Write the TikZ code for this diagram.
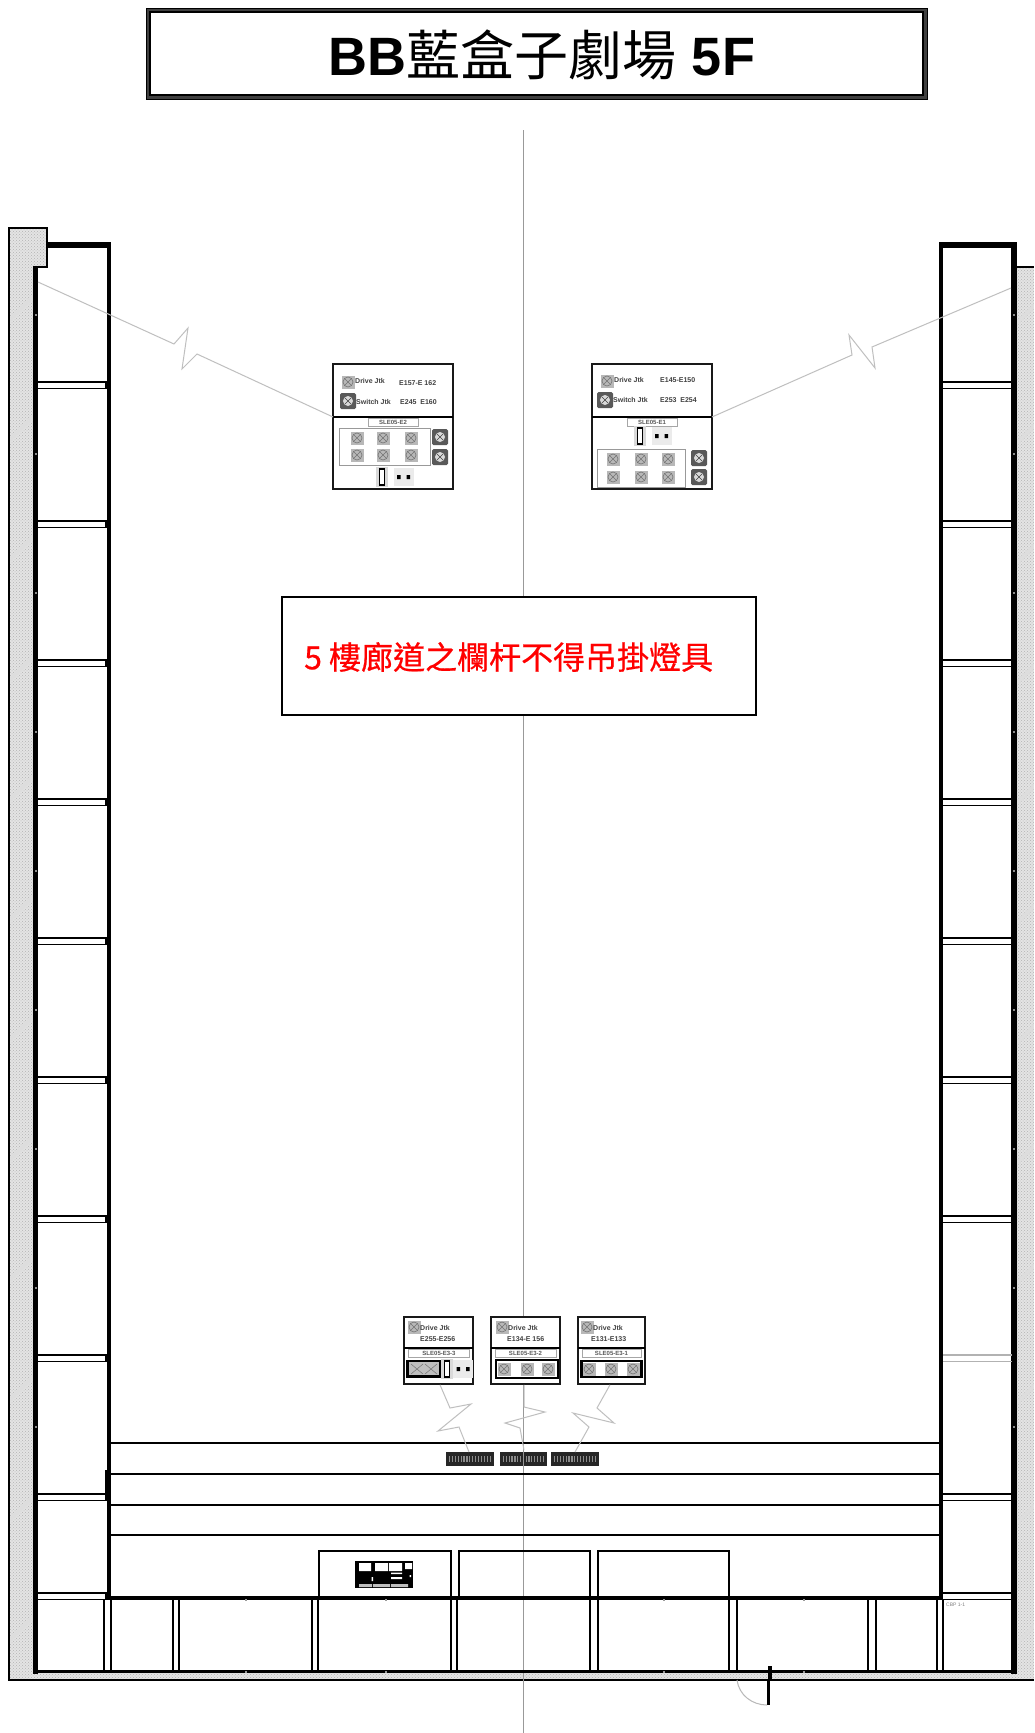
\documentclass[tikz,border=0pt]{standalone}
\usepackage{fontspec}
\usetikzlibrary{patterns}
\setmainfont{Liberation Sans}
\newfontfamily\cjkfont{Noto Sans CJK TC}
\newfontfamily\cjkbold[FakeBold=0.6]{Noto Sans CJK TC}
\definecolor{hatchgray}{HTML}{E4E4E4}
\definecolor{hatchlight}{HTML}{DDDDDD}
\tikzset{
  wallthin/.style={draw=black,line width=1.3},
  wallthick/.style={draw=black,line width=4.5},
  zigzag/.style={draw=black!25,line width=1},
  panelbox/.style={draw=black!90,line width=1.6,fill=white,inner sep=0pt,minimum width=#1},
  tinytext/.style={font=\fontsize{7}{8}\selectfont\bfseries,text=black!75,inner sep=0pt,anchor=west},
  labelbox/.style={draw=black!35,line width=.7,fill=white,font=\fontsize{6}{7}\selectfont\bfseries,text=black!65,inner sep=0pt,minimum height=8pt},
  grayframe/.style={draw=black!40,line width=.9,fill=white},
}
\newcommand\socklight[2]{\begin{scope}[shift={(#1,#2)}]
  \fill[black!28] (-6.5,-6.5) rectangle (6.5,6.5);
  \draw[black!55,line width=.6] (0,0) circle (5);
  \draw[black!55,line width=.5] (-3.4,-3.4)--(3.4,3.4) (-3.4,3.4)--(3.4,-3.4);
\end{scope}}
\newcommand\sockdark[2]{\begin{scope}[shift={(#1,#2)}]
  \fill[black!65,rounded corners=1.5] (-8,-8) rectangle (8,8);
  \fill[black!15] (0,0) circle (5);
  \draw[black!75,line width=.5] (-3.4,-3.4)--(3.4,3.4) (-3.4,3.4)--(3.4,-3.4);
\end{scope}}
\newcommand\fuse[2]{\begin{scope}[shift={(#1,#2)}]
  \fill[black!15] (-6,-10) rectangle (6,10);
  \draw[black,line width=1.2,fill=white] (-2.5,-8) rectangle (2.5,8);
\end{scope}}
\newcommand\twodots[2]{\begin{scope}[shift={(#1,#2)}]
  \fill[black!8] (-10,-9) rectangle (10,9);
  \fill[black] (-6.5,-2) rectangle (-3,2) (3,-2) rectangle (6.5,2);
\end{scope}}
\newcommand\railpair[3]{%
  \draw[black,line width=1.3] (#1,#3) -- (#2,#3) (#1,#3+6.5) -- (#2,#3+6.5);}
\begin{document}
\begin{tikzpicture}[x=1pt,y=-1pt]
\useasboundingbox (0,0) rectangle (1034,1733);
\fill[white] (0,0) rectangle (1034,1733);

% title
\fill[black!75] (146,8) rectangle (927,99);
\fill[white] (150,12) rectangle (923,95);
\draw[black,line width=1] (146,8) rectangle (927,99);
\draw[black,line width=1.2] (150,12) rectangle (923,95);
\node[inner sep=0pt] (title) at (542,55) {\fontsize{54}{60}\selectfont\textbf{BB}{\cjkfont 藍盒子劇場}\textbf{ 5F}};

% hatched walls
\begin{scope}
  \clip (9,228) -- (47,228) -- (47,267) -- (33,267) -- (33,1672) -- (1017,1672) -- (1017,267) -- (1034,267) -- (1034,1680) -- (9,1680) -- cycle;
  \fill[hatchgray] (0,200) rectangle (1034,1690);
  \fill[pattern=crosshatch dots,pattern color=black!30] (0,200) rectangle (1034,1690);
  \foreach \k in {0,...,14} {
    \draw[hatchlight,line width=4] (0,330+120*\k) -- (60,270+120*\k);
    \draw[hatchlight,line width=4] (1010,330+120*\k) -- (1040,300+120*\k);
  }
\end{scope}
\draw[black,line width=1.2] (33,267) -- (47,267) -- (47,228) -- (9,228) -- (9,1680) -- (1034,1680);
\draw[black,line width=1.2] (1017,267) -- (1034,267);

% black bars under the balcony
\foreach \a/\b in {446/494,500/547,551/599} {
  \fill[black!85] (\a,1452) rectangle (\b,1466);
  \foreach \t in {0,...,14} {\fill[black!45] ({\a+3+\t*(\b-\a-6)/14.5},1456) rectangle ++(1.2,6);}
}

% centre line
\draw[black!40,line width=1.3] (523.5,130) -- (523.5,1733);

% long horizontal lines
\draw[wallthin] (110,1443) -- (940,1443) (110,1474) -- (940,1474) (110,1505) -- (940,1505) (110,1535) -- (940,1535);
% three boxes
\draw[wallthin] (319,1597) -- (319,1551) -- (451,1551) -- (451,1597);
\draw[wallthin] (459,1597) -- (459,1551) -- (590,1551) -- (590,1597);
\draw[wallthin] (598,1597) -- (598,1551) -- (729,1551) -- (729,1597);

% galleries
\draw[wallthick,line width=5] (35.5,267) -- (35.5,1674);
\draw[black,line width=6] (47,245) -- (111,245);
\draw[black,line width=3.5] (109,243) -- (109,1600);
\fill[black] (105,1470) rectangle (110,1500);
\draw[black,line width=4] (941,242) -- (941,1600);
\draw[black,line width=6] (939,245) -- (1017,245);
\draw[black,line width=5.5] (1014,242) -- (1014,1674);
\foreach \y in {382,521,660,799,938,1077,1216,1355,1494,1593} {
  \railpair{38}{107}{\y}
  \fill[black] (105,\y) rectangle (108,\y+6.5);
}
\foreach \y in {382,521,660,799,938,1077,1216,1494,1593} {
  \railpair{943}{1012}{\y}
}
\draw[black!30,line width=1.3] (943,1355) -- (1012,1355) (943,1361.5) -- (1012,1361.5);

% cross wall and bottom wall
\draw[black,line width=4.5] (107,1598) -- (941,1598);
\draw[black,line width=3.5] (38,1671.5) -- (1014,1671.5);
% room columns
\foreach \a/\b in {104/111,173/179,312/318,451/457,590/598,729/737,868/876,937/943} {
  \draw[black,line width=1.5] (\a,1600) -- (\a,1671) (\b,1600) -- (\b,1671);
}
% small marks on walls
\foreach \k in {0,...,8} {
  \fill[black!45] (34.5,314+139*\k) rectangle ++(2,2);
  \fill[black!45] (1012.5,314+139*\k) rectangle ++(2,2);
}
\foreach \x in {245,385,663,803} {
  \fill[black!40] (\x,1599) rectangle ++(2,1.5);
  \fill[black!40] (\x,1671) rectangle ++(2,1.5);
}

% door
\draw[black,line width=3.2] (770,1666) -- (770,1680);
\draw[black,line width=3.2] (768.5,1680) -- (768.5,1705);
\draw[black!28,line width=1] (737,1680) .. controls (739,1695) and (752,1705) .. (767,1705);
\node[inner sep=0pt,anchor=west,font=\fontsize{5}{6}\selectfont,text=black!50] (roomtag) at (946,1605) {CBP 1-1};

% device in first box
\fill[black] (355,1561) rectangle (413,1588);
\fill[white] (359,1563) rectangle (371,1571) (375,1563) rectangle (388,1571) (389,1563) rectangle (402,1571) (405,1563) rectangle (412,1569);
\fill[white!75!black] (359,1584) rectangle (372,1587) (373,1584) rectangle (390,1587) (391,1584) rectangle (408,1587);
\fill[white] (371.5,1577) rectangle (373,1581) (391,1572.5) rectangle (402,1574) (391,1577) rectangle (402,1579) (409.5,1575) rectangle (411,1577);

% named anchor points for the zigzag leads
\coordinate (lA) at (38,282);
\coordinate (rA) at (1011,288);
\coordinate (fA) at (469,1452);
\coordinate (fB) at (524,1450);
\coordinate (fC) at (575,1452);

% upper panels
\node[panelbox=120pt,minimum height=125pt] (pL) at (393,426.5) {};
\node[panelbox=120pt,minimum height=125pt] (pR) at (652,426.5) {};
\coordinate (pLt) at (333,417);
\coordinate (pRt) at (712,417);
\draw[black,line width=1.6] (pLt) -- (453,417);
\draw[black,line width=1.6] (592,417) -- (pRt);
\draw[zigzag] (lA) -- (174,344) -- (188,328) -- (182,369) -- (197,354) -- (pLt);
\draw[zigzag] (rA) -- (872,347) -- (875,368) -- (849,335) -- (852,355) -- (pRt);

% left panel contents
\socklight{348}{382}
\sockdark{348}{401}
\node[tinytext] (lt1) at (355,381) {Drive Jtk};
\node[tinytext] (lt2) at (399,383) {E157-E 162};
\node[tinytext] (lt3) at (356,402) {Switch Jtk};
\node[tinytext] (lt4) at (400,402) {E245\ \ E160};
\node[labelbox,minimum width=50pt] (ll) at (393,422.5) {SLE05-E2};
\draw[grayframe] (339,428) rectangle (430,465);
\foreach \x in {357,383,411} {\foreach \y in {438,455} {\socklight{\x}{\y}}}
\sockdark{440}{437}
\sockdark{440}{457}
\fuse{382}{477}
\twodots{403.5}{477}

% right panel contents
\socklight{607}{381}
\sockdark{605}{400}
\node[tinytext] (rt1) at (614,380) {Drive Jtk};
\node[tinytext] (rt2) at (660,380) {E145-E150};
\node[tinytext] (rt3) at (613,400) {Switch Jtk};
\node[tinytext] (rt4) at (660,400) {E253\ \ E254};
\node[labelbox,minimum width=50pt] (rl) at (652,422.5) {SLE05-E1};
\fuse{640}{436}
\twodots{661.5}{436}
\draw[grayframe] (597,449) rectangle (685,487);
\foreach \x in {613,641,668} {\foreach \y in {459,477} {\socklight{\x}{\y}}}
\sockdark{699}{458}
\sockdark{699}{477}

% lower panels
\node[panelbox=69pt,minimum height=67pt] (pA) at (438.5,1350.5) {};
\node[panelbox=69pt,minimum height=67pt] (pB) at (525.5,1350.5) {};
\node[panelbox=67pt,minimum height=67pt] (pC) at (611.5,1350.5) {};
\draw[black,line width=1.6] (404,1348) -- (473,1348) (491,1348) -- (560,1348) (578,1348) -- (645,1348);
\draw[zigzag] (pA.south) ++(1.5,0) -- (450,1408) -- (471,1404) -- (438,1431) -- (459,1427) -- (fA);
\draw[zigzag] (pB.south) ++(-1.5,0) -- (524,1407) -- (545,1412) -- (505,1423) -- (520,1428) -- (fB);
\draw[zigzag] (pC.south) ++(-1.5,0) -- (597,1408) -- (614,1423) -- (573,1413) -- (589,1427) -- (fC);

\socklight{414}{1327}
\node[tinytext] (at1) at (420,1328) {Drive Jtk};
\node[tinytext] (at2) at (420,1339) {E255-E256};
\node[labelbox,minimum width=61pt] (al) at (439,1353.5) {SLE05-E3-3};
\fill[black] (406,1359.5) rectangle (441,1377.5);
\fill[black!25] (409,1362) rectangle (439,1375);
\draw[black!55,line width=.5] (411,1364)--(423,1374) (411,1374)--(423,1364) (425,1364)--(437,1374) (425,1374)--(437,1364);
\fuse{447}{1369}
\twodots{463}{1369}

\socklight{502}{1327}
\node[tinytext] (bt1) at (508,1328) {Drive Jtk};
\node[tinytext] (bt2) at (507,1339) {E134-E 156};
\node[labelbox,minimum width=61pt] (bl) at (525.5,1353.5) {SLE05-E3-2};
\draw[black,line width=2,fill=white] (496,1360) rectangle (558,1378);
\foreach \x in {504,527,548} {\socklight{\x}{1369}}

\socklight{587}{1327}
\node[tinytext] (ct1) at (593,1328) {Drive Jtk};
\node[tinytext] (ct2) at (591,1339) {E131-E133};
\node[labelbox,minimum width=59pt] (cl) at (611.5,1353.5) {SLE05-E3-1};
\fill[black] (580,1359.5) rectangle (643,1377.5);
\fill[white] (583,1361.5) rectangle (640,1375.5);
\foreach \x in {589,611,633} {\socklight{\x}{1369}}

% notice
\node[draw=black,line width=1.2,fill=white,minimum width=474pt,minimum height=118pt,inner sep=0pt] (notice) at (519,656) {};
\node[inner sep=0pt,anchor=west,text=red] (noticetext) at (304,657) {\cjkbold\fontsize{32}{36}\selectfont 5 樓廊道之欄杆不得吊掛燈具};
\end{tikzpicture}
\end{document}
